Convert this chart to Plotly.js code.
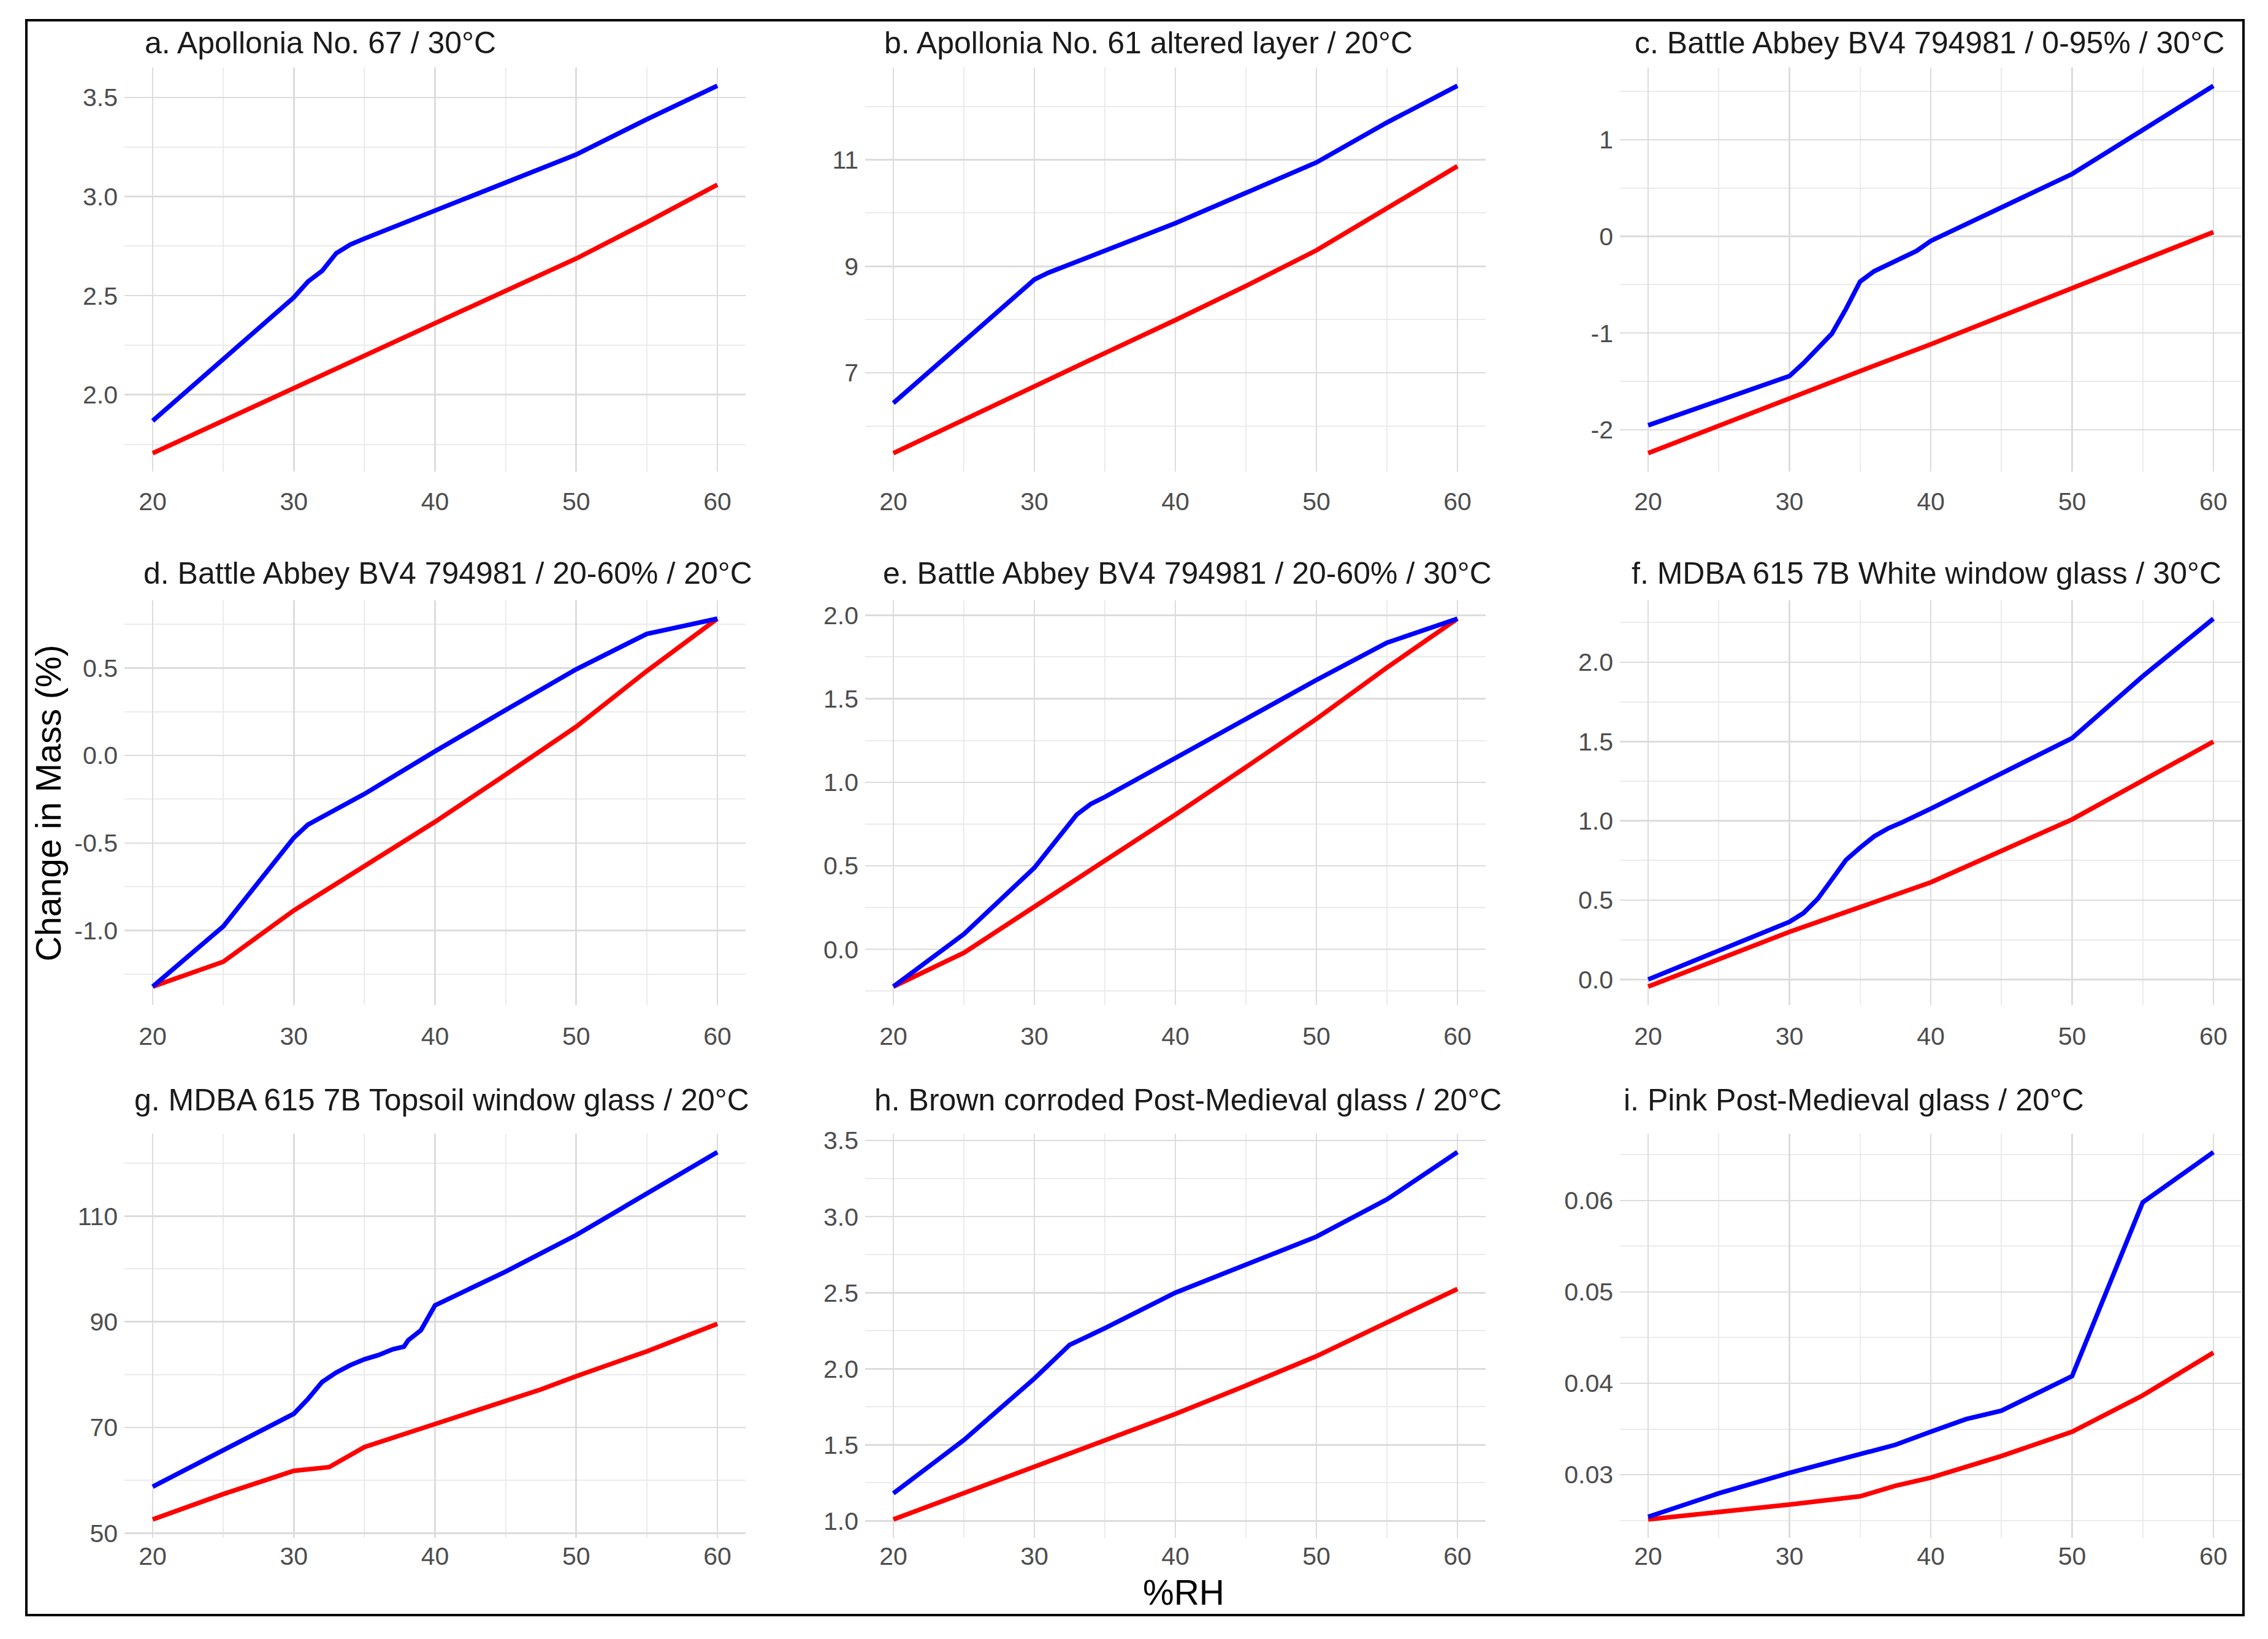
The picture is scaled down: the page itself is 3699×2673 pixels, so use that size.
<!DOCTYPE html>
<html>
<head>
<meta charset="utf-8">
<script src="https://cdn.plot.ly/plotly-3.0.1.min.js"></script>
<style>html,body{margin:0;padding:0;background:#fff;}#chart{width:3699px;height:2673px;}</style>
</head>
<body>
<div id="chart"></div>
<script>
// ---------------- DATA ----------------
const panelTitles = [
  "a. Apollonia No. 67 / 30°C",
  "b. Apollonia No. 61 altered layer / 20°C",
  "c. Battle Abbey BV4 794981 / 0-95% / 30°C",
  "d. Battle Abbey BV4 794981 / 20-60% / 20°C",
  "e. Battle Abbey BV4 794981 / 20-60% / 30°C",
  "f. MDBA 615 7B White window glass / 30°C",
  "g. MDBA 615 7B Topsoil window glass / 20°C",
  "h. Brown corroded Post-Medieval glass / 20°C",
  "i. Pink Post-Medieval glass / 20°C"
];
const xTitle = "%RH";
const yTitle = "Change in Mass (%)";

const rhTicks = [20, 30, 40, 50, 60];

// a
const a_rh_blue = [20,25,30,31,32,33,34,35,40,45,50,55,60];
const a_blue    = [1.868,2.18,2.491,2.571,2.625,2.714,2.758,2.788,2.931,3.069,3.212,3.39,3.559];
const a_rh_red  = [20,25,30,35,40,45,50,55,60];
const a_red     = [1.705,1.87,2.037,2.2,2.361,2.524,2.687,2.87,3.06];
const a_ticks   = [2.0,2.5,3.0,3.5];
const a_labels  = ["2.0","2.5","3.0","3.5"];

// b
const b_rh_blue = [20,25,30,31,35,40,45,50,55,60];
const b_blue    = [6.43,7.6,8.75,8.88,9.30,9.81,10.38,10.95,11.70,12.39];
const b_rh_red  = [20,25,30,35,40,45,50,55,60];
const b_red     = [5.49,6.12,6.76,7.37,7.99,8.63,9.30,10.1,10.88];
const b_ticks   = [7,9,11];
const b_labels  = ["7","9","11"];

// c
const c_rh_blue = [20,25,30,31,32,33,34,35,36,37,38,39,40,45,50,55,60];
const c_blue    = [-1.954,-1.70,-1.444,-1.31,-1.16,-1.006,-0.75,-0.467,-0.36,-0.29,-0.22,-0.15,-0.047,0.30,0.645,1.10,1.557];
const c_rh_red  = [20,25,30,35,40,45,50,55,60];
const c_red     = [-2.242,-1.956,-1.67,-1.393,-1.116,-0.828,-0.54,-0.248,0.044];
const c_ticks   = [-2,-1,0,1];
const c_labels  = ["-2","-1","0","1"];

// d
const d_rh_blue = [20,25,30,31,35,40,45,50,55,60];
const d_blue    = [-1.32,-0.976,-0.47,-0.395,-0.22,0.024,0.259,0.492,0.694,0.781];
const d_rh_red  = [20,25,30,35,40,45,50,55,60];
const d_red     = [-1.32,-1.178,-0.885,-0.63,-0.379,-0.11,0.164,0.482,0.781];
const d_ticks   = [-1.0,-0.5,0.0,0.5];
const d_labels  = ["-1.0","-0.5","0.0","0.5"];

// e
const e_rh_blue = [20,25,30,31,32,33,34,35,40,45,50,55,60];
const e_blue    = [-0.223,0.091,0.488,0.594,0.71,0.806,0.87,0.912,1.145,1.379,1.612,1.835,1.979];
const e_rh_red  = [20,25,30,35,40,45,50,55,60];
const e_red     = [-0.223,-0.021,0.255,0.53,0.806,1.09,1.379,1.686,1.979];
const e_ticks   = [0.0,0.5,1.0,1.5,2.0];
const e_labels  = ["0.0","0.5","1.0","1.5","2.0"];

// f
const f_rh_blue = [20,25,30,31,32,33,34,35,36,37,38,40,45,50,55,60];
const f_blue    = [0,0.18,0.363,0.419,0.508,0.63,0.753,0.831,0.902,0.953,0.991,1.076,1.298,1.521,1.911,2.274];
const f_rh_red  = [20,25,30,35,40,45,50,55,60];
const f_red     = [-0.045,0.125,0.30,0.456,0.612,0.81,1.009,1.254,1.499];
const f_ticks   = [0.0,0.5,1.0,1.5,2.0];
const f_labels  = ["0.0","0.5","1.0","1.5","2.0"];

// g
const g_rh_blue = [20,25,30,31,32,33,34,35,36,37,37.8,38.1,39,40,45,50,55,60];
const g_blue    = [58.8,65.7,72.6,75.4,78.6,80.4,81.8,82.9,83.7,84.8,85.3,86.5,88.4,93.1,99.5,106.4,114.3,122.1];
const g_rh_red  = [20,25,30,32.5,35,40,45,47.5,50,55,60];
const g_red     = [52.6,57.4,61.8,62.5,66.3,70.7,75.1,77.2,79.7,84.4,89.6];
const g_ticks   = [50,70,90,110];
const g_labels  = ["50","70","90","110"];

// h
const h_rh_blue = [20,25,30,32.5,35,40,45,50,55,60];
const h_blue    = [1.181,1.532,1.936,2.157,2.267,2.5,2.684,2.868,3.113,3.424];
const h_rh_red  = [20,25,30,35,40,45,50,55,60];
const h_red     = [1.01,1.185,1.36,1.532,1.703,1.89,2.083,2.304,2.525];
const h_ticks   = [1.0,1.5,2.0,2.5,3.0,3.5];
const h_labels  = ["1.0","1.5","2.0","2.5","3.0","3.5"];

// i
const i_rh_blue = [20,25,30,35,37.5,40,42.5,45,50,55,60];
const i_blue    = [0.02539,0.02796,0.0302,0.03233,0.03327,0.0347,0.03608,0.0370,0.04078,0.0598,0.0653];
const i_rh_red  = [20,25,30,35,37.5,40,45,50,55,60];
const i_red     = [0.0251,0.0259,0.02673,0.02763,0.02878,0.02967,0.03204,0.0347,0.03867,0.04335];
const i_ticks   = [0.03,0.04,0.05,0.06];
const i_labels  = ["0.03","0.04","0.05","0.06"];

const panels = [
  [a_rh_blue,a_blue,a_rh_red,a_red,a_ticks,a_labels],
  [b_rh_blue,b_blue,b_rh_red,b_red,b_ticks,b_labels],
  [c_rh_blue,c_blue,c_rh_red,c_red,c_ticks,c_labels],
  [d_rh_blue,d_blue,d_rh_red,d_red,d_ticks,d_labels],
  [e_rh_blue,e_blue,e_rh_red,e_red,e_ticks,e_labels],
  [f_rh_blue,f_blue,f_rh_red,f_red,f_ticks,f_labels],
  [g_rh_blue,g_blue,g_rh_red,g_red,g_ticks,g_labels],
  [h_rh_blue,h_blue,h_rh_red,h_red,h_ticks,h_labels],
  [i_rh_blue,i_blue,i_rh_red,i_red,i_ticks,i_labels]
];

// ---------------- LAYOUT ----------------
const W = 3699, H = 2673;
const colPx = [[203,1216],[1411,2423],[2642,3656]];
const rowPx = [[110,769],[979,1639],[1849,2508]];
const rowStandoff = [21, 23, 2];
const titleLeftPx = [234,1440,2664,232,1438,2659,217,1424,2646];
const titleRowY = [70,935,1794];

const FONT = "Liberation Sans, Arial, Helvetica, sans-serif";
const BLUE = "#0000ff", RED = "#ff0000";
const GRID = "#dcdcdc", MINOR = "#ebebeb";

function expand(lo, hi) { const s = hi - lo; return [lo - 0.05*s, hi + 0.05*s]; }
function minorOf(ticks, range) {
  const step = ticks.length > 1 ? ticks[1]-ticks[0] : 1;
  const out = [];
  for (let v = ticks[0] - step/2; v <= range[1] + 1e-12; v += step) {
    if (v >= range[0]) out.push(+v.toFixed(6));
  }
  return out;
}

const data = [];
const layout = {
  width: W, height: H,
  margin: {l:0, r:0, t:0, b:0, pad:0},
  paper_bgcolor: "#ffffff", plot_bgcolor: "#ffffff",
  showlegend: false,
  annotations: [], shapes: []
};

const xRange = expand(rhTicks[0], rhTicks[rhTicks.length-1]);
const xMinor = minorOf(rhTicks, xRange);

panels.forEach((p, k) => {
  const [xb, yb, xr, yr, ticks, labels] = p;
  const sfx = k === 0 ? "" : String(k+1);
  const col = k % 3, row = Math.floor(k / 3);
  const allY = yb.concat(yr);
  const yRange = expand(Math.min(...allY), Math.max(...allY));
  const yMinor = minorOf(ticks, yRange);

  data.push({x: xr, y: yr, type: "scatter", mode: "lines", xaxis: "x"+sfx, yaxis: "y"+sfx,
             line: {color: RED, width: 7.5}, hoverinfo: "skip"});
  data.push({x: xb, y: yb, type: "scatter", mode: "lines", xaxis: "x"+sfx, yaxis: "y"+sfx,
             line: {color: BLUE, width: 7.5}, hoverinfo: "skip"});

  layout["xaxis"+sfx] = {
    domain: [colPx[col][0]/W, colPx[col][1]/W],
    anchor: "y"+sfx, range: xRange,
    tickmode: "array", tickvals: rhTicks, ticktext: rhTicks.map(String),
    showgrid: true, gridcolor: GRID, gridwidth: 2.5,
    minor: {tickmode: "array", tickvals: xMinor, showgrid: true, gridcolor: MINOR, gridwidth: 2},
    zeroline: false, showline: false, ticks: "",
    ticklabelstandoff: rowStandoff[row],
    tickfont: {family: FONT, size: 41, color: "#4d4d4d"}
  };
  layout["yaxis"+sfx] = {
    domain: [1 - rowPx[row][1]/H, 1 - rowPx[row][0]/H],
    anchor: "x"+sfx, range: yRange,
    tickmode: "array", tickvals: ticks, ticktext: labels,
    showgrid: true, gridcolor: GRID, gridwidth: 2.5,
    minor: {tickmode: "array", tickvals: yMinor, showgrid: true, gridcolor: MINOR, gridwidth: 2},
    zeroline: false, showline: false, ticks: "",
    ticklabelstandoff: 10,
    tickfont: {family: FONT, size: 41, color: "#4d4d4d"}
  };
  layout.annotations.push({
    text: panelTitles[k], xref: "paper", yref: "paper",
    x: titleLeftPx[k]/W, y: 1 - titleRowY[row]/H, xanchor: "left", yanchor: "middle",
    showarrow: false, font: {family: FONT, size: 50, color: "#1a1a1a"}
  });
});

layout.annotations.push({
  text: yTitle, xref: "paper", yref: "paper", x: 79/W, y: 1 - 1310/H,
  xanchor: "center", yanchor: "middle", textangle: -90, showarrow: false,
  font: {family: FONT, size: 57, color: "#000000"}
});
layout.annotations.push({
  text: xTitle, xref: "paper", yref: "paper", x: 1930/W, y: 1 - 2597/H,
  xanchor: "center", yanchor: "middle", showarrow: false,
  font: {family: FONT, size: 57, color: "#000000"}
});
layout.shapes.push({
  type: "rect", xref: "paper", yref: "paper",
  x0: 43/W, x1: 3659/W, y0: 1 - 2634/H, y1: 1 - 33/H,
  line: {color: "#000000", width: 4}, fillcolor: "rgba(0,0,0,0)", layer: "above"
});

Plotly.newPlot("chart", data, layout, {displayModeBar: false, staticPlot: true});
</script>
</body>
</html>
